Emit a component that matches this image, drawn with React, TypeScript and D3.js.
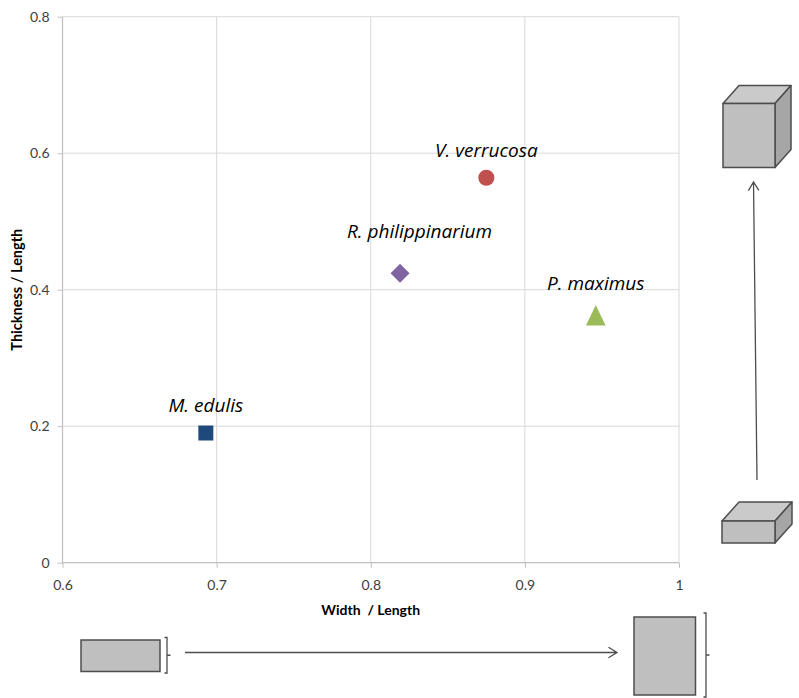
import * as d3 from "d3";
import { useEffect, useRef } from "react";

// shell shape ratios
const species = ["M. edulis", "R. philippinarium", "V. verrucosa", "P. maximus"];
const widthRatio = [0.693, 0.819, 0.875, 0.946];
const thicknessRatio = [0.19, 0.424, 0.564, 0.3625];
const markers = ["square", "diamond", "circle", "triangle"];
const colors = ["#1f497d", "#8064a2", "#c0504d", "#9bbb59"];
// label offset from the marker (px)
const labelDx = [0, 19.5, 0, 0];
const labelDy = [-21.5, -35, -21, -25];

const xTicks = [0.6, 0.7, 0.8, 0.9, 1];
const yTicks = [0, 0.2, 0.4, 0.6, 0.8];

const FONT = "Lato, 'Open Sans', sans-serif";
const LABEL_FONT = "'Open Sans', Lato, sans-serif";

const markerTypes: Record<string, d3.SymbolType> = {
  square: {
    draw(ctx, size) {
      const s = Math.sqrt(size) / 2;
      ctx.rect(-s, -s, s * 2, s * 2);
    },
  },
  diamond: {
    draw(ctx, size) {
      const s = Math.sqrt(size) / 2;
      ctx.moveTo(0, -s);
      ctx.lineTo(s, 0);
      ctx.lineTo(0, s);
      ctx.lineTo(-s, 0);
      ctx.closePath();
    },
  },
  circle: d3.symbolCircle,
  triangle: {
    draw(ctx, size) {
      const s = Math.sqrt(size) / 2;
      ctx.moveTo(0, -s * 1.03);
      ctx.lineTo(s * 0.98, s * 1.03);
      ctx.lineTo(-s * 0.98, s * 1.03);
      ctx.closePath();
    },
  },
};
const markerSizes: Record<string, number> = {
  square: 225,
  diamond: 361,
  circle: 201,
  triangle: 400,
};

const App = () => {
  const ref = useRef(null);

  useEffect(() => {
    drawChart(ref.current);
  }, [ref]);

  return (
    <div ref={ref} style={{ position: "absolute", left: 0, top: 0 }}></div>
  );
};

const drawChart = (element: HTMLElement | null) => {
  if (!element) return;
  d3.select(element).select("svg").remove();

  const W = 799;
  const H = 698;
  const plot = { left: 62.5, right: 679, top: 16.7, bottom: 562.7 };

  const svg = d3
    .select(element)
    .append("svg")
    .attr("width", W)
    .attr("height", H)
    .style("display", "block")
    .style("background", "#fff");

  const x = d3.scaleLinear().domain([0.6, 1]).range([plot.left, plot.right]);
  const y = d3.scaleLinear().domain([0, 0.8]).range([plot.bottom, plot.top]);

  // gridlines
  svg
    .append("g")
    .selectAll("line")
    .data(xTicks.slice(1))
    .enter()
    .append("line")
    .attr("x1", (d) => x(d))
    .attr("x2", (d) => x(d))
    .attr("y1", plot.top)
    .attr("y2", plot.bottom)
    .attr("stroke", "#d9d9d9")
    .attr("stroke-width", 1);

  svg
    .append("g")
    .selectAll("line")
    .data(yTicks.slice(1))
    .enter()
    .append("line")
    .attr("x1", plot.left)
    .attr("x2", plot.right)
    .attr("y1", (d) => y(d))
    .attr("y2", (d) => y(d))
    .attr("stroke", "#d9d9d9")
    .attr("stroke-width", 1);

  // axes
  const xAxis = d3
    .axisBottom(x)
    .tickValues(xTicks)
    .tickFormat((d) => d3.format("")(+d))
    .tickSize(5)
    .tickPadding(12);
  const yAxis = d3
    .axisLeft(y)
    .tickValues(yTicks)
    .tickFormat((d) => d3.format("")(+d))
    .tickSize(5)
    .tickPadding(8);

  const xg = svg
    .append("g")
    .attr("transform", `translate(0,${plot.bottom})`)
    .call(xAxis);
  const yg = svg
    .append("g")
    .attr("transform", `translate(${plot.left},0)`)
    .call(yAxis);

  [xg, yg].forEach((g) => {
    g.select(".domain").attr("stroke", "#bfbfbf").attr("stroke-width", 1.2);
    g.selectAll(".tick line").attr("stroke", "#bfbfbf");
    g.selectAll(".tick text")
      .attr("fill", "#404040")
      .attr("font-size", "14px")
      .attr("font-family", FONT);
  });
  // drop the outer ticks the domain path draws
  xg.select(".domain").attr("d", `M${plot.left},0H${plot.right}`);
  yg.select(".domain").attr("d", `M0,${plot.top}V${plot.bottom}`);

  svg
    .append("text")
    .attr("x", (plot.left + plot.right) / 2)
    .attr("y", 615)
    .attr("text-anchor", "middle")
    .attr("font-family", FONT)
    .attr("font-size", "14px")
    .attr("font-weight", "bold")
    .attr("fill", "#000")
    .attr("xml:space", "preserve")
    .text("Width  / Length");

  svg
    .append("text")
    .attr("transform", `translate(22,${(plot.top + plot.bottom) / 2}) rotate(-90)`)
    .attr("text-anchor", "middle")
    .attr("font-family", FONT)
    .attr("font-size", "14.5px")
    .attr("font-weight", "bold")
    .attr("fill", "#000")
    .text("Thickness / Length");

  // points
  const idx = d3.range(species.length);
  svg
    .append("g")
    .selectAll("path")
    .data(idx)
    .enter()
    .append("path")
    .attr("transform", (i) => `translate(${x(widthRatio[i])},${y(thicknessRatio[i])})`)
    .attr("d", (i) =>
      d3.symbol().type(markerTypes[markers[i]]).size(markerSizes[markers[i]])()
    )
    .attr("fill", (i) => colors[i]);

  svg
    .append("g")
    .selectAll("text")
    .data(idx)
    .enter()
    .append("text")
    .attr("x", (i) => x(widthRatio[i]) + labelDx[i])
    .attr("y", (i) => y(thicknessRatio[i]) + labelDy[i])
    .attr("text-anchor", "middle")
    .attr("font-family", LABEL_FONT)
    .attr("font-style", "italic")
    .attr("font-size", "19px")
    .attr("fill", "#000")
    .text((i) => species[i]);

  // side illustrations: shell shapes growing in thickness and width
  const deco = svg.append("g").attr("stroke", "#4d4d4d").attr("stroke-width", 1.5);

  const cube = (cx: number, cy: number, w: number, h: number, dx: number, dy: number) => {
    deco
      .append("path")
      .attr("d", `M${cx},${cy}L${cx + dx},${cy - dy}H${cx + w + dx}L${cx + w},${cy}Z`)
      .attr("fill", "#cacaca")
      .attr("stroke-linejoin", "round");
    deco
      .append("path")
      .attr("d", `M${cx + w},${cy}L${cx + w + dx},${cy - dy}V${cy + h - dy}L${cx + w},${cy + h}Z`)
      .attr("fill", "#a6a6a6")
      .attr("stroke-linejoin", "round");
    deco
      .append("rect")
      .attr("x", cx)
      .attr("y", cy)
      .attr("width", w)
      .attr("height", h)
      .attr("fill", "#bfbfbf");
  };
  cube(723, 103.5, 52, 64, 16, 18);
  cube(722, 521, 53, 22, 17, 19);

  const bracket = (bx: number, y1: number, y2: number) => {
    deco
      .append("path")
      .attr("d", `M${bx - 2.5},${y1}H${bx}V${y2}H${bx - 2.5}M${bx},${(y1 + y2) / 2}H${bx + 3.5}`)
      .attr("fill", "none")
      .attr("stroke-width", 1.3);
  };
  deco
    .append("rect")
    .attr("x", 81)
    .attr("y", 640)
    .attr("width", 79)
    .attr("height", 31.5)
    .attr("fill", "#bfbfbf");
  bracket(167, 637.5, 673);
  deco
    .append("rect")
    .attr("x", 634)
    .attr("y", 617)
    .attr("width", 61.5)
    .attr("height", 78)
    .attr("fill", "#bfbfbf");
  bracket(706, 613, 697);

  const arrow = (x1: number, y1: number, x2: number, y2: number) => {
    const a = Math.atan2(y2 - y1, x2 - x1);
    const len = 10;
    const spread = 0.55;
    const p1 = [x2 - len * Math.cos(a - spread), y2 - len * Math.sin(a - spread)];
    const p2 = [x2 - len * Math.cos(a + spread), y2 - len * Math.sin(a + spread)];
    deco
      .append("path")
      .attr("d", `M${x1},${y1}L${x2},${y2}M${p1[0]},${p1[1]}L${x2},${y2}L${p2[0]},${p2[1]}`)
      .attr("fill", "none")
      .attr("stroke-width", 1.3);
  };
  arrow(185, 652.5, 617, 652.5);
  arrow(757, 480, 753.5, 182);
};

export default App;
